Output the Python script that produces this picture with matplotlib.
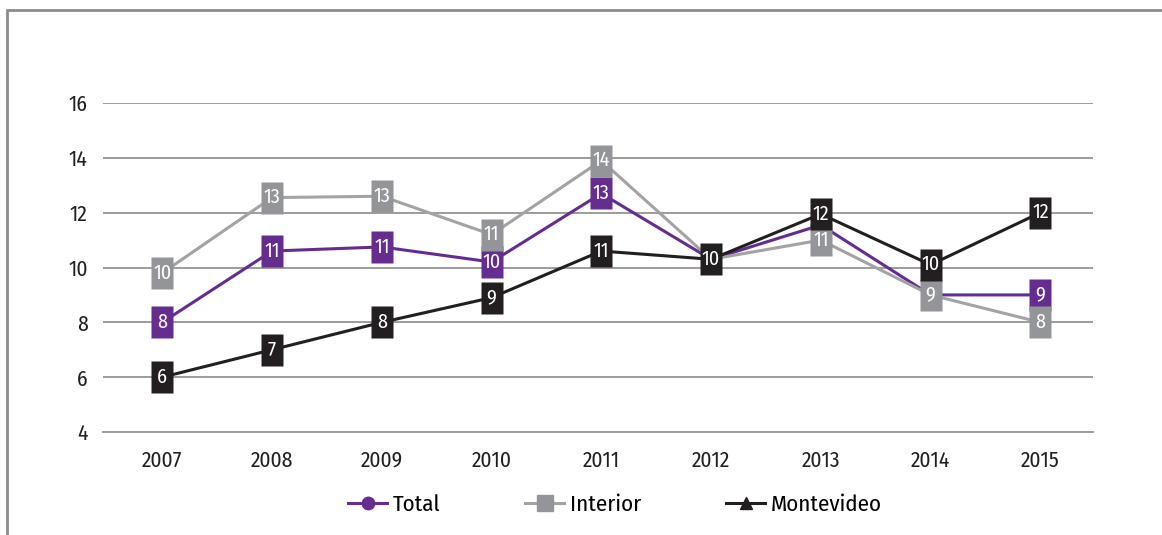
import matplotlib.pyplot as plt
import numpy as np
from matplotlib.lines import Line2D
from matplotlib.patches import Rectangle
from matplotlib.path import Path

plt.rcParams['font.family'] = ['Fira Sans Condensed', 'Barlow Semi Condensed', 'Roboto Condensed', 'DejaVu Sans']

years = ['2007', '2008', '2009', '2010', '2011', '2012', '2013', '2014', '2015']
total = [8.0, 10.6, 10.75, 10.2, 12.7, 10.3, 11.55, 9.0, 9.0]
interior = [9.8, 12.55, 12.6, 11.2, 13.9, 10.3, 11.0, 9.0, 8.0]
montevideo = [6.0, 7.0, 8.0, 8.9, 10.6, 10.3, 11.95, 10.1, 12.0]
# rotulos visibles ('' = tapado por otro rotulo en el original)
total_lab = ['8', '11', '11', '10', '13', '', '', '', '9']
interior_lab = ['10', '13', '13', '11', '14', '', '11', '9', '8']
montevideo_lab = ['6', '7', '8', '9', '11', '10', '12', '10', '12']

purple = '#662d91'
gray_box = '#939598'
gray_line = '#a3a3a5'
black = '#231f20'

fig = plt.figure(figsize=(11.62, 5.35), dpi=100)
ax = fig.add_axes([103/1162, 1-432/535, 990/1162, 329/535])

x = np.arange(len(years))
box = Path([(-0.33, -0.5), (0.33, -0.5), (0.33, 0.5), (-0.33, 0.5), (-0.33, -0.5)])

series = [(total, total_lab, purple, purple), (interior, interior_lab, gray_line, gray_box),
          (montevideo, montevideo_lab, black, black)]
for vals, labs, lc, bc in series:
    ax.plot(x, vals, color=lc, lw=2.2, zorder=3)
z = 4
for vals, labs, lc, bc in series:
    for xi, v, lab in zip(x, vals, labs):
        if lab == '':
            continue
        ax.plot(xi, v, marker=box, markersize=23, color=bc, mec='none', zorder=z, ls='none')
        ax.text(xi, v, lab, color='white', fontsize=14.5, ha='center', va='center', zorder=z + 1)
        z += 2

ax.set_ylim(4, 16)
ax.set_xlim(-0.54, len(years) - 0.52)
ax.set_yticks(range(4, 17, 2))
ax.set_xticks(x)
ax.set_xticklabels(years)
ax.yaxis.grid(True, color='#9c9c9c', lw=1.4)
ax.set_axisbelow(True)
for s in ['top', 'right', 'left']:
    ax.spines[s].set_visible(False)
ax.spines['bottom'].set_color('#9c9c9c')
ax.spines['bottom'].set_linewidth(1.4)
ax.tick_params(axis='both', length=0, labelsize=15.5, colors='#231f20')
ax.tick_params(axis='y', pad=11)
ax.tick_params(axis='x', pad=13)

handles = [
    Line2D([], [], color=purple, lw=2.2, marker='o', markersize=9, label='Total'),
    Line2D([], [], color=gray_line, lw=2.2, marker='s', markersize=12, mfc=gray_box, mec=gray_box, label='Interior'),
    Line2D([], [], color=black, lw=2.2, marker='^', markersize=9, label='Montevideo'),
]
fig.legend(handles=handles, loc='center', bbox_to_anchor=(615/1162, 1-505/535), ncol=3,
           frameon=False, fontsize=16.5, handlelength=1.7, handletextpad=0.25, columnspacing=3.7)

fig.add_artist(Rectangle((7/1162, -0.2), 1.2, 1.2 - 10/535, transform=fig.transFigure,
                         fill=False, ec='#8c8c8c', lw=2))

fig.savefig('out.png', dpi=100)
